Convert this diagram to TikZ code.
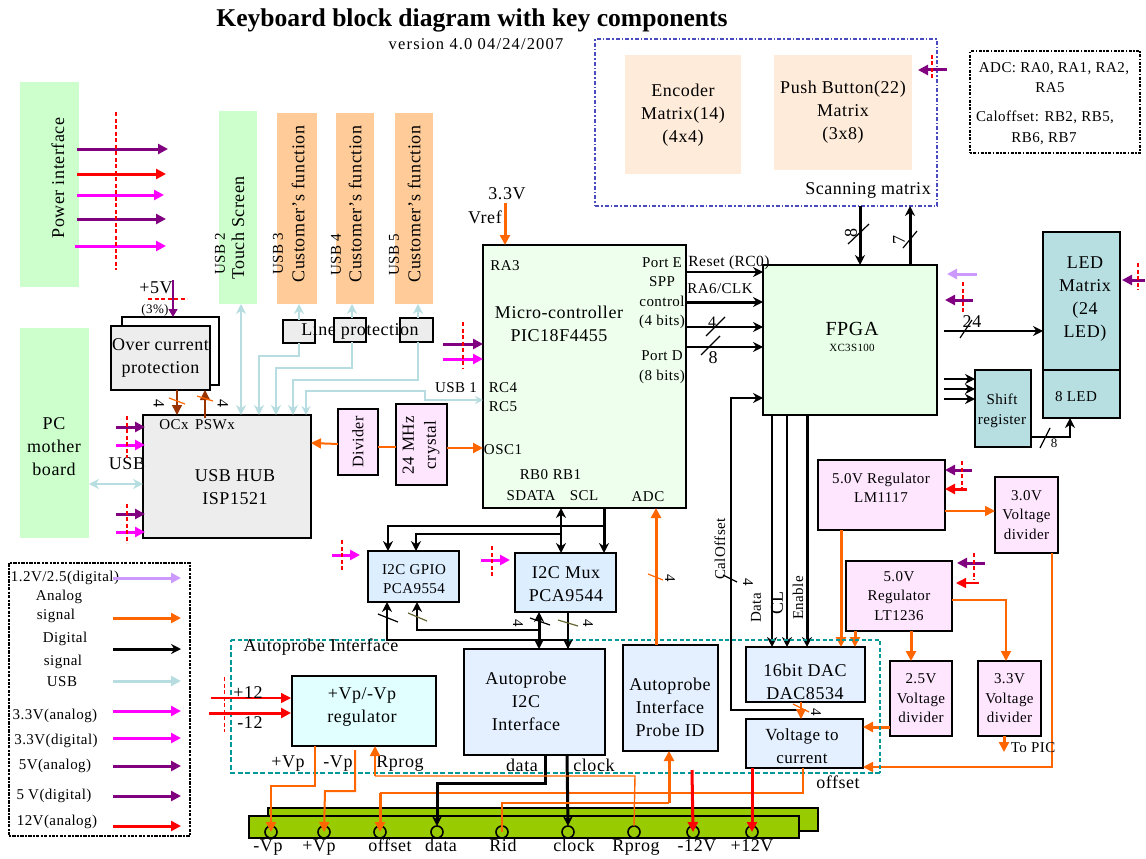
\documentclass[tikz,border=0pt]{standalone}
\usepackage{fontspec}
\setmainfont[LetterSpace=3]{Liberation Serif}
\usetikzlibrary{arrows.meta}
\definecolor{purp}{HTML}{800080}
\definecolor{mag}{HTML}{FF00FF}
\definecolor{orng}{HTML}{FF6600}
\definecolor{lblue}{HTML}{B7DDE0}
\definecolor{lav}{HTML}{CC99FF}
\definecolor{tealx}{HTML}{009999}
\definecolor{brownx}{HTML}{993300}
\definecolor{oliv}{HTML}{666633}
\definecolor{grn}{HTML}{CCFFCC}
\definecolor{peach}{HTML}{FFCC99}
\definecolor{lpeach}{HTML}{FFEBD9}
\definecolor{bargreen}{HTML}{99CC00}
\definecolor{hubgray}{HTML}{EDEDED}
\definecolor{ublue}{HTML}{E4F0FF}
\definecolor{gblue}{HTML}{DDEEFF}
\definecolor{pinkx}{HTML}{FFE6FF}
\definecolor{mint}{HTML}{EEFFEE}
\definecolor{cyanx}{HTML}{E2FFFF}
\definecolor{tealf}{HTML}{B7DFE2}
\definecolor{scanblue}{HTML}{4B4BC0}
\newcommand{\fs}[1]{\fontsize{#1}{#1}\selectfont}
\tikzset{
  blk/.style={draw=black,line width=1.6pt,inner sep=0pt,outer sep=0pt,align=center},
  flat/.style={inner sep=0pt,outer sep=0pt,align=center},
  lbl/.style={inner sep=0pt,outer sep=0pt,align=center},
  t18/.style={font=\fontsize{18}{23}\selectfont},
  t16/.style={font=\fontsize{16}{20}\selectfont},
  t14/.style={font=\fontsize{15}{19.5}\selectfont},
  t13/.style={font=\fontsize{13}{19}\selectfont},
  vtext/.style={lbl,rotate=90},
  arr/.style={-{Triangle[length=10pt,width=10pt]}},
  arrs/.style={-{Triangle[length=8pt,width=9pt]}},
  stealthy/.style={-{Stealth[length=10pt,width=10pt]}},
  both/.style={{Stealth[length=10pt,width=10pt]}-{Stealth[length=10pt,width=10pt]}},
  wthick/.style={line width=3pt},
  wmid/.style={line width=2pt},
  wthin/.style={line width=1.4pt},
  usbline/.style={draw=lblue,line width=2.2pt,{Stealth[length=10pt,width=10pt]}-},
  usbboth/.style={draw=lblue,line width=2.4pt,both},
  reddash/.style={draw=red,line width=1.8pt,dash pattern=on 4pt off 2.5pt},
  tick/.style={line width=1.2pt},
  bl/.style={lbl,t18,anchor=base},
}
\newcommand{\blkn}[7]{%
  \pgfmathsetmacro\bcx{(#3+#5)/2}\pgfmathsetmacro\bcy{(#4+#6)/2}%
  \pgfmathsetmacro\bw{#5-#3}\pgfmathsetmacro\bh{#6-#4}%
  \node[#2,minimum width=\bw pt,minimum height=\bh pt] (#1) at (\bcx,\bcy) {#7};}
% free-standing arrow between two named coordinates
\newcommand{\stub}[4]{\coordinate (#2a) at (#3);\coordinate (#2b) at (#4);\draw[#1] (#2a) -- (#2b);}
\begin{document}
\begin{tikzpicture}[x=1pt,y=-1pt]
\useasboundingbox (0,0) rectangle (1146,859);
\fill[white] (0,0) rectangle (1146,859);
% ---- title
\node[lbl,font=\bfseries\fs{25.6}\addfontfeature{LetterSpace=0}] (title) at (472,20) {Keyboard block diagram with key components};
\node[lbl,font=\fs{16.5}\addfontfeature{LetterSpace=7}] (ver) at (476,44) {version 4.0 04/24/2007};
% ---- left coloured panels
\blkn{pwr}{flat,fill=grn}{20}{82}{79}{287}{}
\node[vtext,t18] (pwrt) at (58,178) {Power interface};
\blkn{pc}{flat,fill=grn}{20}{328}{89}{538}{}
\node[lbl,t18] (pct) at (54,447) {PC\\mother\\board};
\blkn{touch}{flat,fill=grn}{219}{111}{257}{304}{}
\node[vtext,t18] (toucht) at (238,228) {Touch Screen};
\node[vtext,t14] (usb2) at (220,254) {USB 2};
\blkn{cf1}{flat,fill=peach}{277}{113}{317}{304}{}
\blkn{cf2}{flat,fill=peach}{336}{113}{374}{304}{}
\blkn{cf3}{flat,fill=peach}{395}{113}{433}{304}{}
\node[vtext,t18] (cf1t) at (298,204) {Customer’s function};
\node[vtext,t18] (cf2t) at (355,204) {Customer’s function};
\node[vtext,t18] (cf3t) at (414,204) {Customer’s function};
\node[vtext,t14] (usb3) at (278,254) {USB 3};
\node[vtext,t14] (usb4) at (336,255) {USB 4};
\node[vtext,t14] (usb5) at (394,255) {USB 5};
% ---- power arrows
\stub{arr,purp,wthick}{pa1}{77,149}{168,149}
\stub{arr,red,wthick}{pa2}{77,174}{166,174}
\stub{arr,mag,wthick}{pa3}{77,195}{164,195}
\stub{arr,purp,wthick}{pa4}{77,219}{166,219}
\stub{arr,mag,wthick}{pa5}{75,246}{166,246}
\draw[reddash] (116,112) -- (116,270);
% ---- over-current
\blkn{ocb}{blk}{122}{317}{219}{385}{}
\blkn{oc}{blk,fill=hubgray,t18}{111}{326}{210}{390}{Over current\\protection}
\node[lbl,t18] (p5v) at (156,288) {+5V};
\node[lbl,font=\fs{13}] (p3) at (155,310) {(3\%)};
\draw[reddash] (148,299) -- (187,299);
\coordinate (p5a) at (173,280);
\draw[purp,line width=1.2pt,arrs] (p5a) -- (ocb.north -| p5a);
% ---- hub
\blkn{hub}{blk,fill=hubgray}{143}{415}{311}{538}{}
\node[lbl,t18] (hubt) at (235,487) {USB HUB\\ISP1521};
\node[lbl,t14] (ocx) at (174,425) {OCx};
\node[lbl,t14] (pswx) at (215,425) {PSWx};
\draw[brownx,line width=1.4pt,arr] (oc.south -| 177,0) -- (hub.north -| 177,0);
\coordinate (psw) at (205,418);
\draw[brownx,line width=1.4pt,arr] (psw) -- (oc.south -| psw);
\draw[orng,tick] (169,398) -- (185,404);
\draw[orng,tick] (197,396) -- (213,401);
\node[lbl,t16,rotate=-90] (n4a) at (159,403) {4};
\node[lbl,t16,rotate=-90] (n4b) at (223,403) {4};
% ---- PC USB
\draw[usbboth] (pc.east |- 0,484) -- (hub.west |- 0,484);
\node[lbl,t18] (usbl) at (127,464) {USB};
\stub{arr,purp,wthick}{ha}{116,427}{145,427}
\stub{arr,mag,wthick}{hb}{116,445}{145,445}
\draw[reddash] (127,416) -- (127,458);
\stub{arr,purp,wthick}{hc}{116,514}{145,514}
\stub{arr,mag,wthick}{hd}{116,532}{145,532}
\draw[reddash] (127,504) -- (127,543);
% ---- line protection
\blkn{lp1}{blk,fill=hubgray}{283}{320}{315}{343}{}
\blkn{lp2}{blk,fill=hubgray}{334}{318}{366}{342}{}
\blkn{lp3}{blk,fill=hubgray}{400}{318}{433}{342}{}
\node[lbl,t18] (lpt) at (360,331) {Line protection};
\draw[usbboth] (touch.south -| 241,0) -- (hub.north -| 241,0);
\draw[usbline] (cf1.south -| 299,0) -- (lp1.north -| 299,0);
\draw[usbline] (cf2.south -| 352,0) -- (lp2.north -| 352,0);
\draw[usbline] (cf3.south -| 418,0) -- (lp3.north -| 418,0);
\draw[usbline] (hub.north -| 259,0) -- (259,356) -- (299,356) -- (lp1.south -| 299,0);
\draw[usbline] (hub.north -| 276,0) -- (276,368) -- (352,368) -- (lp2.south -| 352,0);
\draw[usbline] (hub.north -| 293,0) -- (293,380) -- (418,380) -- (lp3.south -| 418,0);
% ---- divider, crystal
\blkn{div}{blk,fill=pinkx}{338}{409}{378}{475}{}
\node[vtext,t16] (divt) at (358,442) {Divider};
\blkn{xtal}{blk,fill=pinkx}{396}{404}{447}{485}{}
\node[vtext,font=\fontsize{17}{22}\selectfont] (xtalt) at (421,445) {24 MHz\\crystal};
\draw[orng,line width=2pt,arr] (div.west |- 0,444) -- (hub.east |- 0,443);
\draw[orng,line width=2pt] (xtal.west |- 0,447) -- (div.east |- 0,447);
% ---- micro
\blkn{pic}{blk,fill=mint}{483}{245}{686}{508}{}
\node[lbl,t18] (pict) at (559,324) {Micro-controller\\PIC18F4455};
\node[lbl,t14] (ra3) at (505,266) {RA3};
\node[lbl,t14] (porte) at (662,293) {Port E\\SPP\\control\\(4 bits)};
\node[lbl,t14] (portd) at (662,367) {Port D\\(8 bits)};
\node[lbl,t14] (rc) at (503,397) {RC4\\RC5};
\node[lbl,t14] (osc) at (503,450) {OSC1};
\node[lbl,t14] (rb0) at (534,475) {RB0};
\node[lbl,t14] (rb1) at (567,475) {RB1};
\node[lbl,t14] (sda) at (531,496) {SDATA};
\node[lbl,t14] (scl) at (584,496) {SCL};
\node[lbl,t14] (adc) at (648,497) {ADC};
\node[lbl,t18] (v33) at (507,194) {3.3V};
\node[lbl,t18] (vref) at (485,217) {Vref};
\coordinate (v33a) at (505,203);
\draw[orng,wthick,arr] (v33a) -- (pic.north -| v33a);
\draw[orng,line width=2.4pt,arr] (xtal.east |- 0,448) -- (pic.west |- 0,448);
\stub{arr,purp,wthick}{ma}{443,344}{483,344}
\stub{arr,mag,wthick}{mb}{443,359}{483,359}
\draw[red,line width=1.2pt,dash pattern=on 4pt off 2.5pt] (463,322) -- (463,368);
\node[lbl,t14] (usb1) at (456,388) {USB 1};
\draw[draw=lblue,line width=1.6pt,{Stealth[length=9pt,width=9pt]}-{Stealth[length=8pt,width=8pt]}] (hub.north -| 306,0) -- (306,391) -- (425,391) -- (425,400) -- (pic.west |- 0,400);
% ---- FPGA
\blkn{fpga}{blk,fill=grn!45!white}{763}{265}{937}{415}{}
\node[lbl,font=\fs{20}] (fpgat) at (852,329) {FPGA};
\node[lbl,font=\fs{11}] (fpgas) at (852,348) {XC3S100};
\node[lbl,font=\fs{15.5}] (rst) at (729,263) {Reset (RC0)};
\node[lbl,t14] (ra6) at (720,289) {RA6/CLK};
\draw[black,line width=1.2pt,stealthy] (pic.east |- 0,272) -- (fpga.west |- 0,272);
\draw[black,line width=3pt,stealthy] (pic.east |- 0,302) -- (fpga.west |- 0,302);
\draw[black,line width=2.4pt,stealthy] (pic.east |- 0,327) -- (fpga.west |- 0,327);
\draw[black,line width=1.8pt,stealthy] (pic.east |- 0,347) -- (fpga.west |- 0,347);
\draw[tick] (706,336) -- (725,317);
\draw[tick] (701,355) -- (720,336);
\node[lbl,t16] (n4c) at (712,322) {4};
\node[lbl,font=\fs{18}] (n8c) at (713,358) {8};
\stub{arr,lav,wthick}{fa}{977,274}{947,274}
\stub{arr,purp,wthick}{fb}{973,300}{945,300}
\draw[red,line width=1.2pt,dash pattern=on 4pt off 2.5pt] (963,282) -- (963,312);
% ---- scanning matrix
\blkn{scan}{draw=scanblue,dash pattern=on 4pt off 2pt on 1.5pt off 2pt,line width=1.5pt,flat}{595}{39}{937}{206}{}
\node[lbl,t18] (scant) at (868,190) {Scanning matrix};
\blkn{enc}{flat,fill=lpeach}{625}{55}{741}{174}{}
\node[lbl,t18] (enct) at (683,115) {Encoder\\Matrix(14)\\(4x4)};
\blkn{pb}{flat,fill=lpeach,t18}{774}{55}{912}{170}{Push Button(22)\\Matrix\\(3x8)}
\stub{arr,purp,wthick}{sa}{947,70}{918,70}
\draw[reddash] (932,55) -- (932,80);
\draw[black,wthick,stealthy] (scan.south -| 860,0) -- (fpga.north -| 860,0);
\draw[black,wthick,stealthy] (fpga.north -| 910,0) -- (scan.south -| 910,0);
\draw[tick] (848,244) -- (869,224);
\draw[tick] (903,248) -- (917,231);
\node[lbl,font=\fs{18},rotate=90] (n8s) at (851,233) {8};
\node[lbl,font=\fs{18},rotate=90] (n7s) at (899,240) {7};
% ---- info box
\blkn{info}{draw=black,line width=1.5pt,dash pattern=on 1.5pt off 1.5pt on 3pt off 1.5pt,flat}{970}{51}{1140}{153}{}
\node[lbl,t14] (adci) at (1054,69) {ADC: RA0, RA1, RA2,};
\node[lbl,t14] (adcj) at (1050,88) {RA5};
\node[lbl,t14] (cali) at (1045,117) {Caloffset: RB2, RB5,};
\node[lbl,t14] (calj) at (1044,139) {RB6, RB7};
% ---- LED
\blkn{led}{blk,fill=tealf}{1043}{232}{1120}{370}{}
\node[lbl,t18] (ledt) at (1085,299) {LED\\Matrix\\(24\\LED)};
\blkn{leds}{blk,fill=tealf}{1043}{370}{1120}{418}{}
\node[lbl,t14] (ledst) at (1076,397) {8 LED};
\stub{arr,purp,wthick}{la}{1145,280}{1122,280}
\draw[reddash] (1138,263) -- (1138,290);
\blkn{sr}{blk,fill=tealf}{975}{370}{1031}{447}{}
\node[lbl,t14] (srt) at (1002,411) {Shift\\register};
\coordinate (f24) at (944,331);
\draw[black,line width=1.8pt,stealthy] (f24) -- (led.west |- f24);
\draw[tick] (960,338) -- (972,320);
\node[lbl,t18] (n24) at (972,322) {24};
\foreach \yy/\nn in {379/a,389/b,399/c}{
  \coordinate (fs\nn) at (944,\yy);
  \draw[black,line width=2.4pt,stealthy] (fs\nn) -- (sr.west |- fs\nn);
}
\draw[black,line width=2pt,stealthy] (sr.east |- 0,437) -- (1070,437) -- (leds.south -| 1070,0);
\draw[tick] (1040,448) -- (1050,428);
\node[lbl,t13] (n8l) at (1054,443) {8};
% ---- regulators etc.
\blkn{r50}{blk,fill=pinkx}{818}{460}{945}{530}{}
\node[lbl,t14] (r50t) at (881,488) {5.0V Regulator\\LM1117};
\blkn{v30}{blk,fill=pinkx,t14}{995}{477}{1058}{553}{3.0V\\Voltage\\divider}
\blkn{r36}{blk,fill=pinkx,t14}{846}{561}{952}{631}{5.0V\\Regulator\\LT1236}
\blkn{v25}{blk,fill=pinkx,t14}{890}{661}{952}{736}{2.5V\\Voltage\\divider}
\blkn{v33}{blk,fill=pinkx,t14}{978}{661}{1041}{736}{3.3V\\Voltage\\divider}
\blkn{dac}{blk,fill=ublue}{746}{647}{865}{702}{}
\node[lbl,t18] (dact) at (805,682) {16bit DAC\\DAC8534};
\blkn{v2c}{blk,fill=ublue}{746}{719}{863}{768}{}
\node[lbl,font=\fontsize{17}{23}\selectfont] (v2ct) at (802,746) {Voltage to\\current};
\stub{arr,purp,wthick}{ra}{972,470}{945,470}
\stub{arr,red,wthick}{rb}{967,489}{945,489}
\draw[reddash] (962,461) -- (962,490);
\stub{arr,purp,wthick}{rc}{985,563}{957,563}
\stub{arr,red,wthin}{rd}{979,583}{956,583}
\draw[reddash] (974,553) -- (974,580);
\draw[orng,line width=1.8pt,arr] (r50.east |- 0,511) -- (v30.west |- 0,511);
\draw[orng,wthick,arr] (r50.south -| 841,0) -- (dac.north -| 841,0);
\draw[orng,wthick,arr] (r36.south -| 855,0) -- (dac.north -| 855,0);
\draw[orng,wthick,arr] (r36.south -| 911,0) -- (v25.north -| 911,0);
\draw[orng,line width=1.8pt,arr] (r36.east |- 0,600) -- (1006,600) -- (v33.north -| 1006,0);
\draw[orng,wthick,arr] (v25.west |- 0,727) -- (v2c.east |- 0,727);
\draw[orng,line width=1.8pt,arr] (v30.south -| 1052,0) -- (1052,767) -- (v2c.east |- 0,767);
\coordinate (topic) at (1004,752);
\draw[orng,wthick,arr] (v33.south -| topic) -- (topic);
\node[lbl,t14] (topict) at (1033,748) {To PIC};
% ---- FPGA to DAC
\draw[black,line width=2.6pt,stealthy] (fpga.south -| 772,0) -- (dac.north -| 772,0);
\draw[black,line width=1.8pt,stealthy] (fpga.south -| 787,0) -- (dac.north -| 787,0);
\draw[black,line width=3pt,stealthy] (fpga.south -| 807,0) -- (dac.north -| 807,0);
\node[vtext,t14] (ldata) at (756,608) {Data};
\node[vtext,t18] (lcl) at (777,603) {CL};
\node[vtext,t14] (lena) at (798,598) {Enable};
\node[vtext,t14] (lcal) at (720,549) {CalOffset};
\node[lbl,t14,rotate=-90] (n4cal) at (748,582) {4};
\draw[tick] (723,575) -- (737,582);
\draw[black,line width=1.8pt,stealthy] (800,710) -- (731,710) -- (731,398) -- (fpga.west |- 0,398);
\draw[orng,line width=1.2pt,arr] (dac.south -| 801,0) -- (v2c.north -| 801,0);
\draw[orng,tick] (793,704) -- (809,712);
\node[lbl,t14,rotate=-90] (n4d) at (816,712) {4};
% ---- autoprobe outline
\draw[tealx,line width=1.2pt,dash pattern=on 4pt off 2.5pt] (231,640) -- (880,640) -- (880,773);
\draw[tealx,line width=2.6pt,dash pattern=on 5pt off 2.5pt] (880,773) -- (231,773) -- (231,640);
\node[lbl,t18] (apl) at (321,647) {Autoprobe Interface};
\node[bl] (offl) at (838,788) {offset};
% ---- I2C section
\blkn{gpio}{blk,fill=gblue}{368}{551}{459}{602}{}
\node[lbl,font=\fontsize{15}{19}\selectfont] (gpiot) at (414,579) {I2C GPIO\\PCA9554};
\blkn{mux}{blk,fill=gblue}{515}{553}{616}{612}{}
\node[lbl,t18] (muxt) at (566,584) {I2C Mux\\PCA9544};
\blkn{ai2c}{blk,fill=ublue}{464}{649}{605}{755}{}
\node[lbl,t18] (ai2ct) at (526,701) {Autoprobe\\I2C\\Interface};
\blkn{pid}{blk,fill=ublue}{623}{645}{718}{751}{}
\node[lbl,t18] (pidt) at (670,707) {Autoprobe\\Interface\\Probe ID};
\blkn{reg}{blk,fill=cyanx}{292}{676}{436}{746}{}
\node[lbl,t18] (regt) at (362,707) {+Vp/-Vp\\regulator};
\draw[black,wmid,both] (pic.south -| 561,0) -- (mux.north -| 561,0);
\draw[black,wthick,stealthy] (pic.south -| 604,0) -- (mux.north -| 604,0);
\draw[black,wmid,stealthy] (604,526) -- (388,526) -- (gpio.north -| 388,0);
\draw[black,wmid,stealthy] (561,534) -- (416,534) -- (gpio.north -| 416,0);
\stub{arr,mag,wthick}{ga}{332,555}{360,555}
\draw[reddash] (342,540) -- (342,570);
\stub{arr,mag,wthick}{gb}{481,560}{510,560}
\draw[reddash] (492,546) -- (492,577);
\draw[black,wmid,stealthy] (ai2c.north -| 568,0) -- (568,640) -- (387,640) -- (gpio.south -| 387,0);
\draw[black,wmid,stealthy] (539,630) -- (417,630) -- (gpio.south -| 417,0);
\draw[black,wthick,both] (mux.south -| 539,0) -- (ai2c.north -| 539,0);
\draw[black,wthin,stealthy] (mux.south -| 568,0) -- (ai2c.north -| 568,0);
\draw[tick] (378,614) -- (398,622);
\draw[oliv,tick] (408,613) -- (427,621);
\draw[tick] (530,618) -- (550,625);
\draw[oliv,tick] (558,620) -- (578,626);
\node[lbl,t14,rotate=-90] (n4e) at (518,623) {4};
\node[lbl,t14,rotate=-90] (n4f) at (588,623) {4};
\draw[orng,wthick,arr] (pid.north -| 656,0) -- (pic.south -| 656,0);
\draw[orng,tick] (648,574) -- (663,580);
\node[lbl,t14,rotate=-90] (n4g) at (670,578) {4};
% ---- +12/-12
\stub{arr,red,wthin}{va}{211,698}{291,698}
\stub{arr,red,wthick}{vb}{209,713}{291,713}
\draw[red,line width=1pt,dash pattern=on 4pt off 2.5pt] (224,677) -- (224,732);
\node[lbl,t18] (p12) at (248,693) {+12};
\node[lbl,t18] (m12) at (250,723) {-12};
\node[bl] (pvp) at (288,767) {+Vp};
\node[bl] (mvp) at (338,767) {-Vp};
\node[bl] (rpl) at (400,767) {Rprog};
\node[bl] (dal) at (522,771) {data};
\node[bl] (cll) at (594,771) {clock};
% ---- bottom connector
\blkn{barb}{blk,fill=bargreen}{268}{808}{818}{831}{}
\blkn{bar}{blk,fill=bargreen}{249}{816}{799}{838}{}
\foreach \nn/\xx in {c1/271,c2/324,c3/380,c4/437,c5/502,c6/568,c7/634,c8/693,c9/752}{
  \node[draw=black,line width=1.6pt,circle,minimum size=12pt,inner sep=0pt,outer sep=0pt] (\nn) at (\xx,832) {};
}
\node[bl] (b1) at (268,851) {-Vp};
\node[bl] (b2) at (319,851) {+Vp};
\node[bl] (b3) at (390,851) {offset};
\node[bl] (b4) at (441,851) {data};
\node[bl] (b5) at (503,851) {Rid};
\node[bl] (b6) at (574,851) {clock};
\node[bl] (b7) at (636,851) {Rprog};
\node[bl] (b8) at (697,851) {-12V};
\node[bl] (b9) at (752,851) {+12V};
\draw[orng,line width=2pt,arr] (reg.south -| 315,0) -- (315,786) -- (271,786) -- (c1.center);
\draw[orng,line width=2pt,arr] (355,750) -- (355,791) -- (325,791) -- (c2.center);
\draw[orng,line width=1.4pt] (v2c.south -| 803,0) -- (803,793) -- (380,793);
\draw[orng,wthick,arr] (380,793) -- (c3.center);
\draw[black,wthick,stealthy] (ai2c.south -| 545,0) -- (545,783) -- (437,783) -- (c4.north);
\draw[black,wthick,stealthy] (ai2c.south -| 567,0) -- (c6.north);
\draw[orng,line width=1.4pt] (c5.center) -- (502,803) -- (669,803);
\draw[orng,wthick,arr] (669,803) -- (pid.south -| 669,0);
\draw[orng,line width=1.4pt] (c7.north) -- (635,776) -- (375,776);
\draw[orng,wmid,arr] (375,776) -- (reg.south -| 375,0);
\draw[red,wthick,arr] (692,770) -- (c8.center);
\draw[red,wthick,arr] (v2c.south -| 752,0) -- (c9.center);
% ---- legend
\blkn{leg}{draw=black,line width=2pt,dash pattern=on 2pt off 1.2pt on 3.5pt off 1.2pt,flat}{9}{563}{190}{836}{}
\foreach \nn/\xx/\yy/\tt in {la/65/578/{1.2V/2.5(digital)},lb/59/597/{Analog},lc/56/616/{signal},ld/65/639/{Digital},le/63/662/{signal},lf/62/682/{USB},lg/55/716/{3.3V(analog)},lh/56/741/{3.3V(digital)},li/55/766/{5V(analog)},lj/54/796/{5 V(digital)},lk/57/822/{12V(analog)}}{
  \node[lbl,t14] (\nn) at (\xx,\yy) {\tt};
}
\stub{arr,lav,wthick}{ka}{113,578}{181,578}
\stub{arr,orng,wthick}{kb}{113,618}{181,618}
\draw[black,wthick,stealthy] (113,649) -- (181,649);
\stub{arr,lblue,wthick}{kd}{113,681}{181,681}
\stub{arr,mag,wthick}{ke}{113,711}{181,711}
\stub{arr,mag,wthick}{kf}{113,738}{181,738}
\stub{arr,purp,wthick}{kg}{113,766}{181,766}
\stub{arr,purp,wthick}{kh}{113,796}{181,796}
\stub{arr,red,wthick}{ki}{113,826}{181,826}
\end{tikzpicture}
\end{document}
